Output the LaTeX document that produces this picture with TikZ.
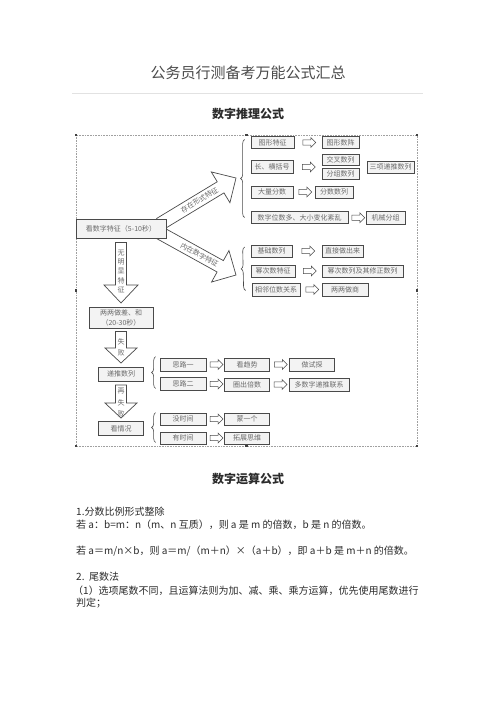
\documentclass[tikz,border=0pt]{standalone}
\usepackage{fontspec}
\setmainfont{Noto Sans CJK SC}
\usepackage{xcolor}
\usepackage{tikz}
\usetikzlibrary{calc,shadows,shapes.arrows,decorations.pathreplacing}
\definecolor{DocInk}{HTML}{2B2B2B}
\definecolor{BoxLine}{HTML}{4A4A4A}
\definecolor{BoxFill}{HTML}{F3F3F3}
\definecolor{BoxText}{HTML}{6A6A6A}
\definecolor{FrameDot}{HTML}{A0A0A0}
\definecolor{RuleGray}{HTML}{E2E2E2}
\newcommand{\fatarrow}[5]{%
  \coordinate (fh) at ($(#2)!#5!(#1)$);
  \draw[fatshape] ($(#1)!#3!90:(#2)$) -- ($(fh)!#3!90:(#2)$) -- ($(fh)!#4!90:(#2)$) -- (#2)
    -- ($(fh)!#4!-90:(#2)$) -- ($(fh)!#3!-90:(#2)$) -- ($(#1)!#3!-90:(#2)$) -- cycle;}
\tikzset{
  numbox/.style={draw=BoxLine,fill=BoxFill,line width=0.7pt,inner sep=1pt,minimum height=12pt,font=\fontsize{7}{9}\selectfont,text=BoxText,align=center,drop shadow={shadow xshift=0.8pt,shadow yshift=-0.8pt,fill=black!45}},
  hollowarrow/.style={single arrow,draw=BoxLine,fill=white,line width=0.6pt,inner xsep=0pt,inner ysep=2.3pt,minimum height=13pt,single arrow head extend=2.3pt},
  fatshape/.style={draw=BoxLine,fill=white,line width=0.7pt},
  fattext/.style={font=\fontsize{7}{10}\selectfont,text=BoxText,align=center,inner sep=0pt},
  bracket/.style={draw=BoxLine,line width=0.6pt,decorate,decoration={brace,amplitude=4pt}},
  bodytext/.style={anchor=base west,font=\fontsize{10}{13}\selectfont,text=DocInk,inner sep=0pt},
  headtext/.style={anchor=base,font=\fontsize{12}{14}\selectfont\bfseries,text=DocInk,inner sep=0pt},
  handle/.style={fill=black!75,minimum size=2.6pt,inner sep=0pt}
}
\begin{document}
\begin{tikzpicture}[x=1pt,y=-1pt]
\fill[white] (0,0) rectangle (496,702);
\useasboundingbox (0,0) rectangle (496,702);
% page heading
\node[anchor=base,font=\fontsize{15}{18}\selectfont,text=DocInk!85,inner sep=0pt] (title) at (248,78.5) {公务员行测备考万能公式汇总};
\draw[RuleGray,line width=0.8pt] (72,93) -- (423,93);
\node[headtext] (secA) at (248,118.5) {数字推理公式};
% picture frame
\draw[FrameDot,densely dotted,line width=0.6pt] (76,135) rectangle (417,446);
\foreach \hx/\hy [count=\k] in {76/135,246.5/135,417/135,76/290.5,417/290.5,76/446,246.5/446,417/446}
  \node[handle] (hnd\k) at (\hx,\hy) {};
% big arrows
\coordinate (upA) at (160,224);
\coordinate (upB) at (236,178);
\coordinate (dnA) at (160,233);
\coordinate (dnB) at (236,275);
\fatarrow{upA}{upB}{6.5pt}{18pt}{18pt}
\fatarrow{dnA}{dnB}{6.5pt}{18pt}{18pt}
\path (upA) -- node[fattext,sloped,pos=0.52] (upT) {存在形式特征} (upB);
\path (dnA) -- node[fattext,sloped,pos=0.52] (dnT) {内在数字特征} (dnB);
\coordinate (vAa) at (121,242.5);
\coordinate (vAb) at (121,303);
\coordinate (vBa) at (121,331.5);
\coordinate (vBb) at (121,363);
\coordinate (vCa) at (121,385);
\coordinate (vCb) at (121,418);
\fatarrow{vAa}{vAb}{5.5pt}{17pt}{18pt}
\fatarrow{vBa}{vBb}{5.5pt}{16pt}{15pt}
\fatarrow{vCa}{vCb}{5.5pt}{16pt}{15pt}
\node[fattext,font=\fontsize{7}{9.2}\selectfont] (vAt) at (121,271.5) {无\\明\\显\\特\\征};
\node[fattext,font=\fontsize{7}{11.5}\selectfont] (vBt) at (121,347.5) {失\\败};
\node[fattext,font=\fontsize{7}{11.5}\selectfont] (vCt) at (121,403) {再\\失\\败};
% boxes
\node[numbox,minimum width=90pt,minimum height=19pt] (kan) at (121,228.5) {看数字特征（5-10秒）};
\node[numbox,minimum width=43pt] (txfz) at (272.5,142.5) {图形特征};
\node[numbox,minimum width=37pt] (txsz) at (340.5,142.5) {图形数阵};
\node[numbox,minimum width=42pt,minimum height=13pt] (chang) at (272,167) {长、横括号};
\node[numbox,minimum width=37pt,minimum height=11pt] (jcsl) at (340.5,160) {交叉数列};
\node[numbox,minimum width=37pt,minimum height=11pt] (fzsl) at (340.5,173.5) {分组数列};
\node[numbox,minimum width=47pt] (sxdt) at (390.5,167) {三项递推数列};
\node[numbox,minimum width=42pt] (dlfs) at (272,192) {大量分数};
\node[numbox,minimum width=38pt] (fssl) at (334,192) {分数数列};
\node[numbox,minimum width=97pt] (swd) at (299.5,217.5) {数字位数多、大小变化紊乱};
\node[numbox,minimum width=39pt,minimum height=13pt] (jxfz) at (385.5,218) {机械分组};
\node[numbox,minimum width=41pt] (jcsz) at (271.5,251) {基础数列};
\node[numbox,minimum width=41pt] (zjzc) at (342.5,251) {直接做出来};
\node[numbox,minimum width=44pt] (mcts) at (273,271) {幂次数特征};
\node[numbox,minimum width=81pt] (mcsl) at (362.5,271) {幂次数列及其修正数列};
\node[numbox,minimum width=48pt,minimum height=13pt] (xlws) at (276,289.5) {相邻位数关系};
\node[numbox,minimum width=46pt,minimum height=13pt] (lldc) at (345,289.5) {两两做商};
\node[numbox,minimum width=64pt,minimum height=21pt,font=\fontsize{7}{9.5}\selectfont] (lldh) at (121,318) {两两做差、和\\（20-30秒）};
\node[numbox,minimum width=45pt,minimum height=14pt] (dtsl) at (121,374) {递推数列};
\node[numbox,minimum width=45pt,minimum height=14pt] (kqk) at (121,428.5) {看情况};
\node[numbox,minimum width=46pt,minimum height=13pt] (sl1) at (183,364.5) {思路一};
\node[numbox,minimum width=46pt,minimum height=13pt] (sl2) at (183,383.5) {思路二};
\node[numbox,minimum width=45pt,minimum height=13pt] (kqs) at (247,364.5) {看趋势};
\node[numbox,minimum width=45pt,minimum height=13pt] (zst) at (312,364.5) {做试探};
\node[numbox,minimum width=45pt,minimum height=13pt] (qcbs) at (247,384.5) {圈出倍数};
\node[numbox,minimum width=60pt,minimum height=13pt] (dsz) at (319,384.5) {多数字递推联系};
\node[numbox,minimum width=46pt] (msj) at (183,419) {没时间};
\node[numbox,minimum width=46pt] (ysj) at (183,438) {有时间};
\node[numbox,minimum width=45pt] (myg) at (247,419) {蒙一个};
\node[numbox,minimum width=45pt] (tzsw) at (247,438) {拓展思维};
% braces
\draw[bracket] ($(swd.west)+(-6,0)$) -- ($(txfz.west)+(-6,-3)$);
\draw[bracket] ($(xlws.west)+(-6,1)$) -- ($(jcsz.west)+(-6,-4)$);
\draw[bracket] ($(sl2.south west)+(-4,-2)$) -- ($(sl1.north west)+(-4,-1)$);
\draw[bracket] ($(ysj.south west)+(-4,-2)$) -- ($(msj.north west)+(-4,0)$);
% small arrows
\path (txfz.east) -- node[hollowarrow] (a1) {} (txsz.west);
\path (chang.east) -- node[hollowarrow] (a2) {} (chang.east -| jcsl.west);
\path (dlfs.east) -- node[hollowarrow] (a3) {} (fssl.west);
\path (swd.east) -- node[hollowarrow] (a4) {} (jxfz.west);
\path (jcsz.east) -- node[hollowarrow] (a5) {} (zjzc.west);
\path (mcts.east) -- node[hollowarrow] (a6) {} (mcsl.west);
\path (xlws.east) -- node[hollowarrow] (a7) {} (lldc.west);
\path (sl1.east) -- node[hollowarrow] (a8) {} (kqs.west);
\path (kqs.east) -- node[hollowarrow] (a9) {} (zst.west);
\path (sl2.east) -- node[hollowarrow] (a10) {} (qcbs.west);
\path (qcbs.east) -- node[hollowarrow] (a11) {} (dsz.west);
\path (msj.east) -- node[hollowarrow] (a12) {} (myg.west);
\path (ysj.east) -- node[hollowarrow] (a13) {} (tzsw.west);
% text below
\node[headtext] (secB) at (248,483.5) {数字运算公式};
\node[bodytext] (l1) at (76,515.5) {1.分数比例形式整除};
\node[bodytext] (l2) at (76,528) {若 a：b=m：n（m、n 互质），则 a 是 m 的倍数，b 是 n 的倍数。};
\node[bodytext] (l3) at (76,554) {若 a＝m/n×b，则 a＝m/（m＋n）×（a＋b），即 a＋b 是 m＋n 的倍数。};
\node[bodytext] (l4) at (76,580) {2.\ \ 尾数法};
\node[bodytext] (l5) at (73,594) {（1）选项尾数不同，且运算法则为加、减、乘、乘方运算，优先使用尾数进行};
\node[bodytext] (l6) at (76,606.5) {判定；};
\end{tikzpicture}
\end{document}
